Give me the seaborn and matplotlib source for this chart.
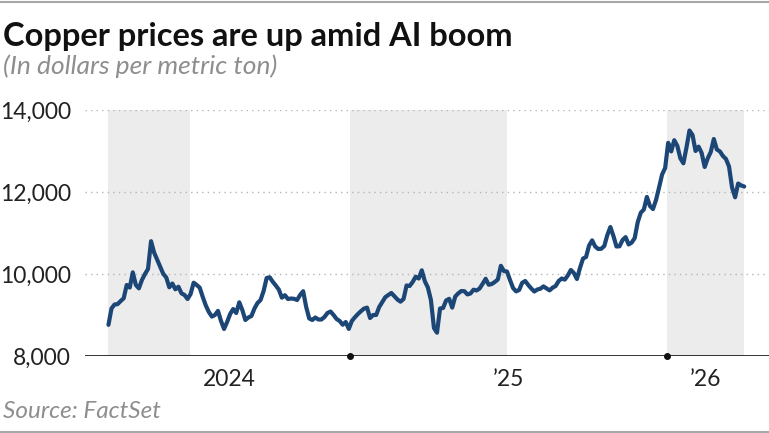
import numpy as np
import pandas as pd
import matplotlib
matplotlib.use("Agg")
import matplotlib.pyplot as plt
import matplotlib.dates as mdates
import seaborn as sns

# ---------------- data ----------------
start_date = "2024-03-29"
step = "84h"  # ~ two readings per week
prices = [
    8760, 9160, 9256, 9265, 9340, 9407, 9732, 9670, 10040, 9732,
    9650, 9854, 10000, 10122, 10800, 10524, 10349, 10178, 10005, 9915,
    9676, 9768, 9627, 9690, 9527, 9488, 9390, 9512, 9788, 9732,
    9666, 9439, 9232, 9073, 8961, 9000, 9100, 8854, 8659, 8829,
    9024, 9146, 9049, 9310, 9122, 8878, 8939, 8976, 9159, 9293,
    9366, 9585, 9902, 9920, 9812, 9720, 9620, 9422, 9483, 9390,
    9402, 9395, 9366, 9488, 9580, 9195, 8915, 8878, 8939, 8890,
    8890, 8951, 9049, 9085, 9000, 8902, 8854, 8763, 8829, 8660,
    8854, 8944, 9024, 9093, 9156, 9180, 8927, 9000, 9000, 9195,
    9317, 9434, 9488, 9537, 9456, 9378, 9325, 9390, 9720, 9707,
    9805, 9934, 9890, 10090, 9824, 9671, 9366, 8683, 8568, 9159,
    9171, 9354, 9395, 9180, 9451, 9529, 9585, 9580, 9502, 9524,
    9617, 9598, 9646, 9761, 9883, 9737, 9756, 9805, 9866, 10200,
    10073, 10061, 9854, 9659, 9576, 9610, 9785, 9829, 9732, 9646,
    9573, 9622, 9641, 9698, 9649, 9600, 9666, 9707, 9829, 9890,
    9863, 9963, 10098, 10024, 9878, 10146, 10376, 10415, 10695, 10820,
    10671, 10610, 10615, 10683, 10951, 11146, 10927, 10671, 10676, 10829,
    10900, 10720, 10766, 10878, 11268, 11495, 11573, 11880, 11659, 11585,
    11805, 12110, 12427, 12585, 13200, 12990, 13263, 13127, 12822, 12700,
    13080, 13500, 13390, 13000, 13106, 12951, 12610, 12821, 12976, 13293,
    13037, 12990, 12878, 12805, 12622, 12110, 11870, 12207, 12159, 12134,
]
y_ticks = [8000, 10000, 12000, 14000]
year_starts = ["2024-01-01", "2025-01-01", "2026-01-01", "2027-01-01"]
year_labels = ["2024", "\u201925", "\u201926"]

title = "Copper prices are up amid AI boom"
subtitle = "(In dollars per metric ton)"
source = "Source: FactSet"

# ---------------- build frame ----------------
dates = pd.date_range(start_date, periods=len(prices), freq=step)
df = pd.DataFrame({"date": dates, "price": prices})
d0, d1 = df["date"].min(), df["date"].max()

# ---------------- styling ----------------
sns.set_theme(style="white")
plt.rcParams["font.family"] = ["Lato", "DejaVu Sans"]

W, H = 769, 433
fig = plt.figure(figsize=(W / 100, H / 100), dpi=100)
ax_left, ax_right = 85 / W, 1.0
ax_bottom, ax_top = 1 - 356 / H, 1 - 110 / H
ax = fig.add_axes([ax_left, ax_bottom, ax_right - ax_left, ax_top - ax_bottom])

line_color = "#1c4676"
band_color = "#ececec"

# shaded first-half-of-year bands, clipped to data range
ys = pd.to_datetime(year_starts)
for ystart in ys:
    mid = pd.Timestamp(year=ystart.year, month=7, day=1)
    a, b = max(ystart, d0), min(mid, d1)
    if a < b:
        ax.axvspan(a, b, color=band_color, lw=0, zorder=0)

sns.lineplot(data=df, x="date", y="price", ax=ax, color=line_color,
             linewidth=3.0, zorder=3)

ax.set_xlim(pd.Timestamp("2024-03-02"), pd.Timestamp("2026-04-28"))
ax.set_ylim(y_ticks[0], y_ticks[-1])

# grid lines
for v in y_ticks[1:]:
    ax.axhline(v, color="#b5b5b5", lw=1.0, ls=(0, (1, 3)), zorder=1)
ax.axhline(y_ticks[0], color="#111111", lw=1.2, zorder=4)

for s in ax.spines.values():
    s.set_visible(False)

ax.set_yticks(y_ticks)
ax.set_yticklabels([f"{v:,}" for v in y_ticks])
ax.tick_params(axis="y", length=0, pad=10, labelsize=16.5, labelcolor="#222222")

# year labels centered on visible (data) part of each year
centers = []
for i in range(len(year_labels)):
    a = max(ys[i], d0)
    b = min(ys[i + 1], d1)
    centers.append(a + (b - a) / 2)
ax.set_xticks(centers)
ax.set_xticklabels(year_labels)
ax.tick_params(axis="x", length=0, pad=9, labelsize=16.5, labelcolor="#222222")
ax.set_xlabel("")
ax.set_ylabel("")

# year boundary dots
bounds = [y for y in ys if d0 < y < d1]
ax.plot(bounds, [y_ticks[0]] * len(bounds), "o", color="#111111", ms=4,
        clip_on=False, zorder=5)

# texts
fig.text(3 / W, 1 - 46 / H, title, fontsize=23.5, fontweight="bold",
         color="#111111", ha="left", va="baseline")
fig.text(3 / W, 1 - 74 / H, subtitle, fontsize=19, fontstyle="italic",
         fontweight="normal", color="#8e8e8e", ha="left", va="baseline")
fig.text(3 / W, 1 - 418 / H, source, fontsize=17.5, fontstyle="italic",
         fontweight="normal", color="#8e8e8e", ha="left", va="baseline")

# thin frame rules top and bottom
fig.add_artist(plt.Line2D([0, 1], [1 - 1.5 / H, 1 - 1.5 / H],
                          color="#a8a8a8", lw=1.5))
fig.add_artist(plt.Line2D([0, 1], [1.5 / H, 1.5 / H],
                          color="#a8a8a8", lw=1.5))

fig.savefig("out.png", dpi=100)
